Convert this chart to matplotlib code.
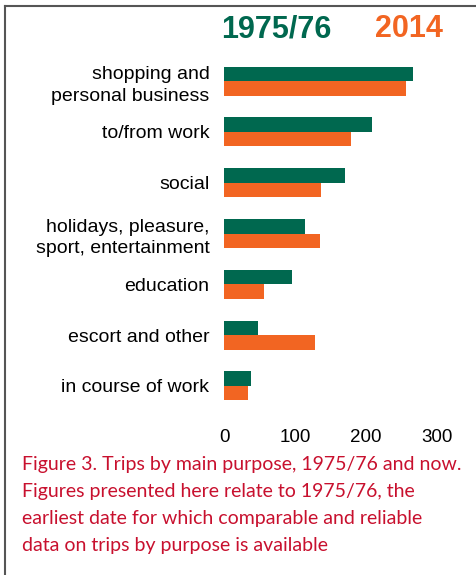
import matplotlib
matplotlib.use("Agg")
import matplotlib.pyplot as plt
from matplotlib.lines import Line2D

# Trip purposes and trip counts per person per year
purposes = [
    "shopping and\npersonal business",
    "to/from work",
    "social",
    "holidays, pleasure,\nsport, entertainment",
    "education",
    "escort and other",
    "in course of work",
]
trips_1975 = [266, 209, 171, 114, 96, 48, 38]
trips_2014 = [256, 179, 137, 136, 56, 128, 34]
x_ticks = [0, 100, 200, 300]

green = "#00684F"
orange = "#F26522"
caption_red = "#C8102E"

W, H = 476, 575
fig = plt.figure(figsize=(W / 100, H / 100), dpi=100)
fig.patch.set_facecolor("white")

# axes placement in pixels
x0_px, x300_px = 224, 436.7
top_px, bot_px = 55.6, 411.4
ax = fig.add_axes([x0_px / W, 1 - bot_px / H, (x300_px - x0_px) / W, (bot_px - top_px) / H])

bar_h = 0.285
ys = list(range(len(purposes)))
ax.barh([y - bar_h / 2 for y in ys], trips_1975, height=bar_h, color=green, edgecolor="none")
ax.barh([y + bar_h / 2 for y in ys], trips_2014, height=bar_h, color=orange, edgecolor="none")

ax.set_xlim(0, 300)
ax.set_ylim(len(purposes) - 0.5, -0.5)
ax.set_xticks(x_ticks)
ax.set_xticklabels([str(t) for t in x_ticks], family="Liberation Sans", fontsize=13.5)
ax.set_yticks(ys)
ax.set_yticklabels(purposes, family="Liberation Sans", fontsize=14, ha="right",
                   linespacing=1.35)
for lbl in ax.get_yticklabels():
    lbl.set_verticalalignment("center_baseline")
ax.tick_params(axis="both", length=0)
ax.tick_params(axis="y", pad=10.5)
ax.tick_params(axis="x", pad=13)
for s in ax.spines.values():
    s.set_visible(False)
ax.set_facecolor("none")

# series headings
fig.text(276.7 / W, 1 - 29 / H, "1975/76", color=green, fontsize=22, fontweight="bold",
         family="Liberation Sans", ha="center", va="center")
fig.text(409 / W, 1 - 29 / H, "2014", color=orange, fontsize=22, fontweight="bold",
         family="Liberation Sans", ha="center", va="center")

# caption
caption = ("Figure 3. Trips by main purpose, 1975/76 and now.\n"
           "Figures presented here relate to 1975/76, the\n"
           "earliest date for which comparable and reliable\n"
           "data on trips by purpose is available")
fig.text(22.5 / W, 1 - 456 / H, caption, color=caption_red, fontsize=14,
         family="Lato", ha="left", va="top", linespacing=1.71)

# frame lines along the top and left edge
fig.add_artist(Line2D([4.5 / W, 1], [1 - 5.5 / H, 1 - 5.5 / H], color="#555555", lw=1.5,
                      transform=fig.transFigure))
fig.add_artist(Line2D([4.5 / W, 4.5 / W], [0, 1 - 5.5 / H], color="#555555", lw=1.5,
                      transform=fig.transFigure))

fig.savefig("out.png", dpi=100)
